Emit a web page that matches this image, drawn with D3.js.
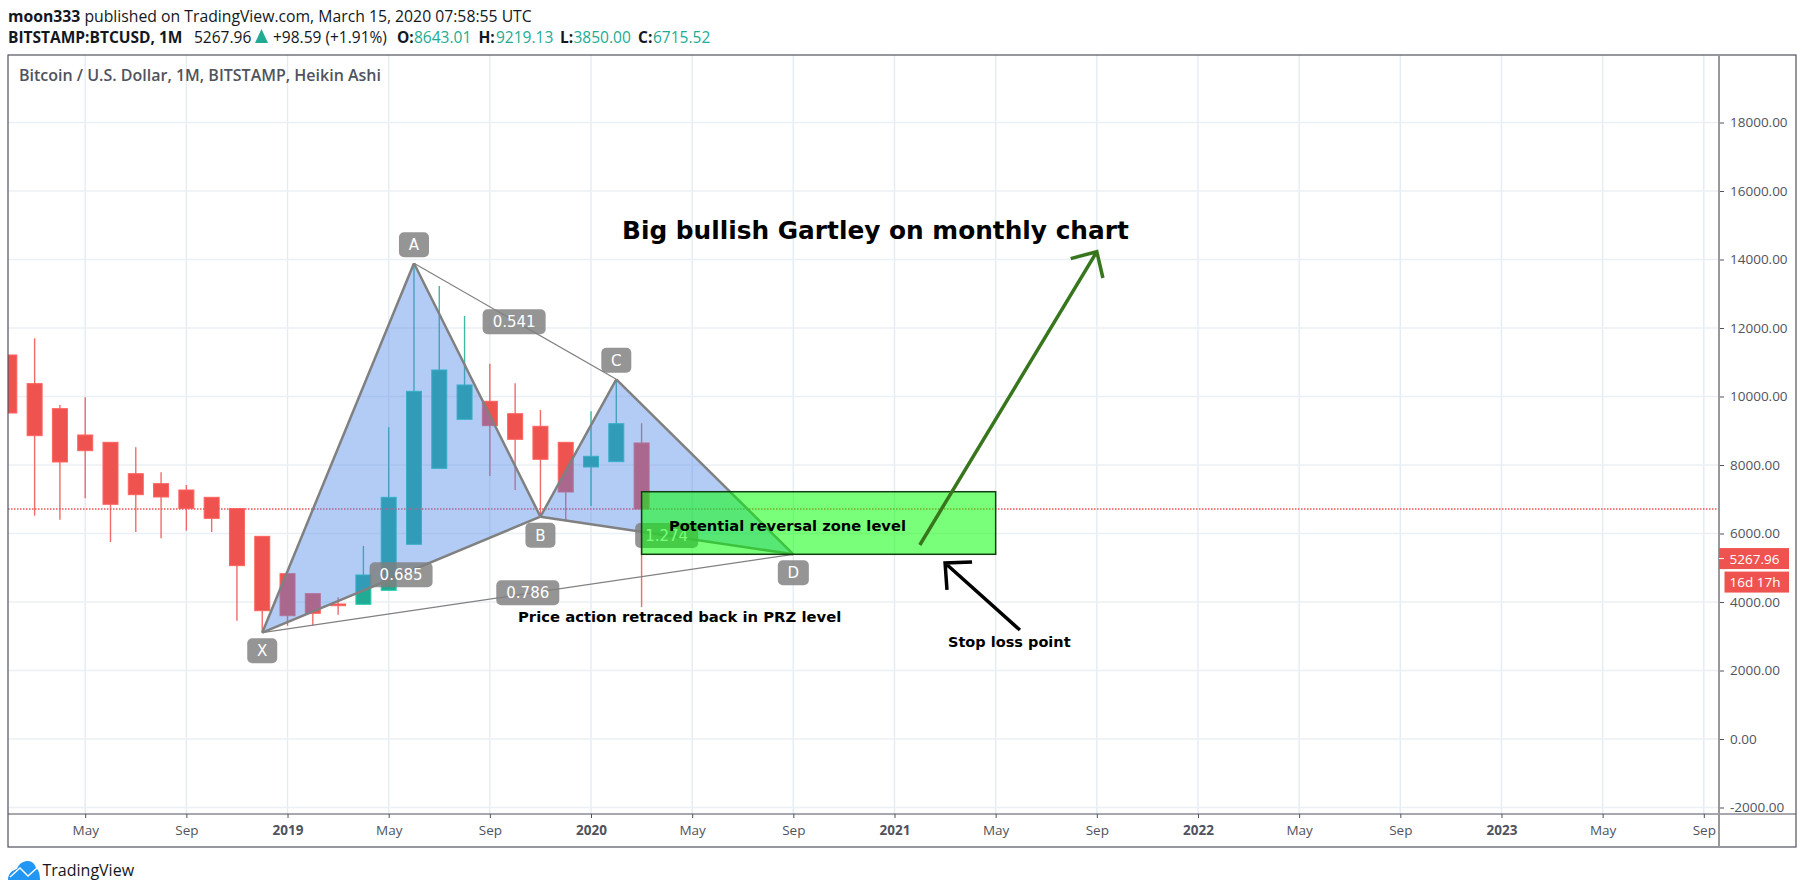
<!DOCTYPE html>
<html>
<head>
<meta charset="utf-8">
<script src="https://cdn.jsdelivr.net/npm/d3@7"></script>
<style>
  html, body { margin: 0; padding: 0; background: #fff; }
  svg { display: block; }
  .ui { font-family: "Open Sans", sans-serif; }
  .note { font-family: "DejaVu Sans", sans-serif; font-weight: bold; fill: #000; }
</style>
</head>
<body>
<div id="canvas"></div>
<script>
// months counted from Jan 2018 (0)
const months = [1, 2, 3, 4, 5, 6, 7, 8, 9, 10, 11, 12, 13, 14, 15, 16, 17, 18, 19, 20, 21, 22, 23, 24, 25, 26];
const opens = [11212, 10375, 9645, 8876, 8662, 7746, 7455, 7270, 7056, 6725, 5917, 4827, 4243, 3942, 3932, 4341, 5685, 7903, 9334, 9860, 9498, 9130, 8662, 7942, 8097, 8643.01];
const closes = [9518, 8856, 8088, 8418, 6852, 7133, 7066, 6735, 6443, 5061, 3746, 3600, 3670, 3892, 4788, 7056, 10151, 10774, 10336, 9148, 8750, 8166, 7212, 8254, 9206, 6715.52];
const highs = [11212, 11698, 9752, 9976, 8662, 8516, 7786, 7416, 7056, 6725, 5917, 4827, 4243, 4136, 5635, 9100, 13889, 13226, 12350, 10958, 10385, 9606, 8662, 9568, 10502, 9219.13];
const lows = [9518, 6521, 6404, 7027, 5752, 6044, 5860, 6082, 6044, 3456, 3104, 3308, 3308, 3629, 3932, 4341, 5685, 7903, 9334, 7679, 7270, 6491, 6394, 6803, 8097, 3850];

const priceTicks = [-2000, 0, 2000, 4000, 6000, 8000, 10000, 12000, 14000, 16000, 18000];
const timeTicks = [4, 8, 12, 16, 20, 24, 28, 32, 36, 40, 44, 48, 52, 56, 60, 64, 68];
const timeLabels = ["May", "Sep", "2019", "May", "Sep", "2020", "May", "Sep", "2021", "May", "Sep", "2022", "May", "Sep", "2023", "May", "Sep"];

const lastPrice = 5267.96;
const lastClose = 6715.52;

// harmonic pattern points
const patternNames = ["X", "A", "B", "C", "D"];
const patternMonths = [11, 17, 22, 25, 32];
const patternPrices = [3104, 13889, 6491, 10502, 5393];
const ratioLabels = ["0.685", "0.541", "1.274", "0.786"];
const ratioMonths = [16.49, 20.96, 26.99, 21.5];
const ratioPrices = [4795, 12180, 5942, 4270];

// drawn zone and arrows
const zoneMonths = [26, 40];
const zonePrices = [7220, 5393];
const greenArrowMonths = [37, 44];
const greenArrowPrices = [5664, 14228];
const blackArrowMonths = [40.96, 38];
const blackArrowPrices = [3182, 5139];

const width = 1804;
const height = 894;
const margin = { top: 55, left: 8, bottom: 47, right: 8 };
const axisX = 1719;
const axisY = 814;
const right = width - margin.right;
const bottom = height - margin.bottom;

const red = "#ef5350";
const teal = "#22ab94";
const axisColor = "#50535e";

const x = d3.scaleLinear().domain([4, 68]).range([85.2, 1703.8]);
const y = d3.scaleLinear().domain([-2000, 18000]).range([807.5, 122.5]);

const svg = d3.select("#canvas").append("svg").attr("width", width).attr("height", height);

svg.append("clipPath").attr("id", "plot")
  .append("rect")
  .attr("x", margin.left)
  .attr("y", margin.top)
  .attr("width", axisX - margin.left)
  .attr("height", axisY - margin.top);
svg.append("clipPath").attr("id", "prices")
  .append("rect")
  .attr("x", axisX)
  .attr("y", margin.top)
  .attr("width", right - axisX)
  .attr("height", axisY - margin.top);

// header
const head = svg.append("g").attr("class", "ui").attr("fill", "#131722");
const line1 = head.append("text").attr("x", 8).attr("y", 22).style("font-size", "15.75px");
line1.append("tspan").attr("font-weight", "bold").text("moon333");
line1.append("tspan").text(" published on TradingView.com, March 15, 2020 07:58:55 UTC");

const line2 = head.append("text").attr("y", 43).style("font-size", "15.5px");
const headParts = [
  ["BITSTAMP:BTCUSD, 1M", 8, "bold", "#131722"],
  ["5267.96", 194, "normal", "#131722"],
  ["+98.59 (+1.91%)", 273, "normal", "#131722"],
  ["O:", 397, "bold", "#131722"],
  ["8643.01", 414, "normal", teal],
  ["H:", 478.5, "bold", "#131722"],
  ["9219.13", 496, "normal", teal],
  ["L:", 560, "bold", "#131722"],
  ["3850.00", 573.5, "normal", teal],
  ["C:", 638, "bold", "#131722"],
  ["6715.52", 653, "normal", teal]
];
headParts.forEach((p) => {
  line2.append("tspan").attr("x", p[1]).attr("font-weight", p[2]).attr("fill", p[3]).text(p[0]);
});
head.append("path").attr("d", "M255 43L261.5 29L268 43Z").attr("fill", teal);

// grid
const grid = svg.append("g").attr("clip-path", "url(#plot)");
grid.selectAll(".vgrid").data(timeTicks).enter().append("line")
  .attr("x1", (d) => x(d)).attr("x2", (d) => x(d))
  .attr("y1", margin.top).attr("y2", axisY)
  .attr("stroke", "#e3ecf3").attr("stroke-width", 1.4);
grid.selectAll(".hgrid").data(priceTicks).enter().append("line")
  .attr("x1", margin.left).attr("x2", axisX)
  .attr("y1", (d) => y(d)).attr("y2", (d) => y(d))
  .attr("stroke", "#ebf0f5").attr("stroke-width", 1.4);

svg.append("text").attr("class", "ui")
  .attr("x", 19).attr("y", 81)
  .attr("fill", "#50535e")
  .style("font-size", "16px").style("font-weight", 600)
  .text("Bitcoin / U.S. Dollar, 1M, BITSTAMP, Heikin Ashi");

// candles
const plot = svg.append("g").attr("clip-path", "url(#plot)");
const candles = plot.selectAll(".candle").data(months.map((m, i) => i)).enter().append("g");
const candleColor = (i) => (closes[i] >= opens[i] ? teal : red);
candles.append("line")
  .attr("x1", (i) => x(months[i])).attr("x2", (i) => x(months[i]))
  .attr("y1", (i) => y(highs[i])).attr("y2", (i) => y(lows[i]))
  .attr("stroke", candleColor).attr("stroke-width", 1.4).attr("opacity", 0.85);
candles.append("rect")
  .attr("x", (i) => x(months[i]) - 7.5)
  .attr("width", 15)
  .attr("y", (i) => y(Math.max(opens[i], closes[i])))
  .attr("height", (i) => Math.max(1, Math.abs(y(opens[i]) - y(closes[i]))))
  .attr("fill", candleColor)
  .attr("stroke", (i) => d3.color(candleColor(i)).brighter(0.5))
  .attr("stroke-width", 1);

// last close dotted line
plot.append("line")
  .attr("x1", margin.left).attr("x2", axisX)
  .attr("y1", y(lastClose)).attr("y2", y(lastClose))
  .attr("stroke", red).attr("stroke-width", 1.4).attr("stroke-dasharray", "1.5 1.5");

// pattern
const pt = patternMonths.map((m, i) => [x(m), y(patternPrices[i])]);
const [pX, pA, pB, pC, pD] = pt;
const pattern = plot.append("g");
pattern.selectAll(".tri").data([[pX, pA, pB], [pB, pC, pD]]).enter().append("path")
  .attr("d", (d) => d3.line()(d) + "Z")
  .attr("fill", "#4a85e7").attr("fill-opacity", 0.42);
pattern.selectAll(".thick").data([[pX, pA], [pA, pB], [pB, pX], [pB, pC], [pC, pD], [pB, pD]]).enter().append("path")
  .attr("d", (d) => d3.line()(d))
  .attr("fill", "none").attr("stroke", "#808080").attr("stroke-width", 2.5);
pattern.selectAll(".thin").data([[pX, pD], [pA, pC]]).enter().append("path")
  .attr("d", (d) => d3.line()(d))
  .attr("fill", "none").attr("stroke", "#808080").attr("stroke-width", 1.2);

// labels on the pattern
function tag(cx, cy, w, label) {
  const g = plot.append("g");
  g.append("rect")
    .attr("x", cx - w / 2).attr("y", cy - 12.5)
    .attr("width", w).attr("height", 25).attr("rx", 5)
    .attr("fill", "#808080").attr("fill-opacity", 0.83);
  g.append("text")
    .attr("x", cx).attr("y", cy + 5.5)
    .attr("text-anchor", "middle").attr("fill", "#fff")
    .style("font-family", "'DejaVu Sans', sans-serif").style("font-size", "15px")
    .text(label);
}
const tagOffsets = [18, -18.5, 18.5, -19, 18.5];
patternNames.forEach((n, i) => {
  tag(pt[i][0], pt[i][1] + tagOffsets[i], n === "D" ? 31 : 30, n);
});
ratioLabels.forEach((n, i) => {
  tag(x(ratioMonths[i]), y(ratioPrices[i]), 63, n);
});

// zone
plot.append("rect")
  .attr("x", x(zoneMonths[0])).attr("y", y(zonePrices[0]))
  .attr("width", x(zoneMonths[1]) - x(zoneMonths[0]))
  .attr("height", y(zonePrices[1]) - y(zonePrices[0]))
  .attr("fill", "#00ff00").attr("fill-opacity", 0.52)
  .attr("stroke", "#0f3d0f").attr("stroke-width", 1.5);

// arrows
function arrow(xs, ys, color) {
  const a = [x(xs[0]), y(ys[0])];
  const b = [x(xs[1]), y(ys[1])];
  const ang = Math.atan2(a[1] - b[1], a[0] - b[0]);
  const wing = (t) => [b[0] + 27 * Math.cos(ang + t), b[1] + 27 * Math.sin(ang + t)];
  plot.append("path")
    .attr("d", d3.line()([a, b]) + "M" + wing(0.77) + "L" + b + "L" + wing(-0.77))
    .attr("fill", "none").attr("stroke", color).attr("stroke-width", 3.5);
}
arrow(greenArrowMonths, greenArrowPrices, "#38761d");
arrow(blackArrowMonths, blackArrowPrices, "#000");

// notes
svg.append("text").attr("class", "note").attr("x", 622).attr("y", 239).style("font-size", "24.8px")
  .text("Big bullish Gartley on monthly chart");
svg.append("text").attr("class", "note").attr("x", 669).attr("y", 530.5).style("font-size", "14.7px")
  .text("Potential reversal zone level");
svg.append("text").attr("class", "note").attr("x", 518).attr("y", 622).style("font-size", "14.8px")
  .text("Price action retraced back in PRZ level");
svg.append("text").attr("class", "note").attr("x", 948).attr("y", 647).style("font-size", "14.5px")
  .text("Stop loss point");

// price axis, wrapped so the clip stays in page coordinates
const priceAxis = svg.append("g")
  .attr("clip-path", "url(#prices)")
  .append("g")
  .attr("class", "ui")
  .attr("transform", `translate(${axisX},0)`)
  .call(d3.axisRight(y).tickValues(priceTicks).tickSize(5).tickPadding(6).tickFormat((d) => d3.format(".2f")(d).replace("−", "-")));
priceAxis.select(".domain").remove();
priceAxis.selectAll("text").attr("fill", axisColor).style("font-size", "13.5px").style("font-family", "'Open Sans', sans-serif");
priceAxis.selectAll("line").attr("stroke", axisColor);

// time axis
const timeAxis = svg.append("g")
  .attr("class", "ui")
  .attr("transform", `translate(0,${axisY})`)
  .call(d3.axisBottom(x).tickValues(timeTicks).tickSize(4).tickPadding(7).tickFormat((d, i) => timeLabels[i]));
timeAxis.select(".domain").remove();
timeAxis.selectAll("text")
  .attr("fill", axisColor)
  .style("font-size", "13.5px").style("font-family", "'Open Sans', sans-serif")
  .style("font-weight", (d, i) => (timeLabels[i].length === 4 ? "bold" : "normal"));
timeAxis.selectAll("line").attr("stroke", axisColor);

// frame
svg.append("rect")
  .attr("x", margin.left).attr("y", margin.top)
  .attr("width", right - margin.left).attr("height", bottom - margin.top)
  .attr("fill", "none").attr("stroke", axisColor).attr("stroke-width", 1.2);
svg.append("line").attr("x1", margin.left).attr("x2", right).attr("y1", axisY).attr("y2", axisY)
  .attr("stroke", axisColor).attr("stroke-width", 1.2);
svg.append("line").attr("x1", axisX).attr("x2", axisX).attr("y1", margin.top).attr("y2", bottom)
  .attr("stroke", "#999").attr("stroke-width", 2);

// last price tags
const lastY = y(lastPrice);
svg.append("rect").attr("x", axisX).attr("y", lastY - 10.5).attr("width", 70).attr("height", 21).attr("fill", red);
svg.append("rect").attr("x", 1724.5).attr("y", lastY + 13).attr("width", 64.5).attr("height", 21).attr("fill", red);
svg.append("line").attr("x1", axisX).attr("x2", axisX + 5).attr("y1", lastY).attr("y2", lastY).attr("stroke", "#fff");
const tagText = svg.append("g").attr("class", "ui").attr("fill", "#fff").style("font-size", "13.5px");
tagText.append("text").attr("x", 1729.5).attr("y", lastY + 5).text(lastPrice.toFixed(2));
tagText.append("text").attr("x", 1729.5).attr("y", lastY + 28.5).text("16d 17h");

// logo
const logo = svg.append("g");
logo.append("path")
  .attr("d", "M8 880 C8 873 13 870 17 869 C19 863 24 861 28 861 C32 861 35 864 36 868 C39 870 40 875 40 880 Z")
  .attr("fill", "#2196f3");
logo.append("path")
  .attr("d", "M10 877 L20 868 L28 876 L37 868")
  .attr("fill", "none").attr("stroke", "#fff").attr("stroke-width", 1.4);
svg.append("text").attr("class", "ui")
  .attr("x", 42.5).attr("y", 876)
  .attr("fill", "#131722")
  .style("font-size", "16px")
  .text("TradingView");
</script>
</body>
</html>
